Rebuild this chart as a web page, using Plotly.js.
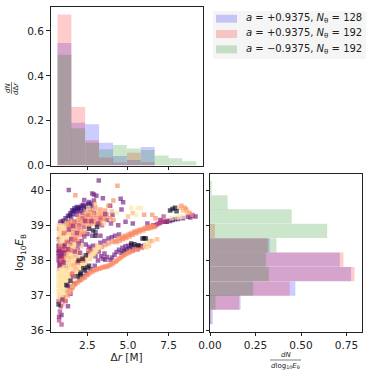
<!doctype html>
<html><head><meta charset="utf-8" />
<script src="https://cdn.plot.ly/plotly-3.0.1.min.js"></script>
<style>html,body{margin:0;background:#fff}#c{width:374px;height:377px}</style>
</head><body><div id="c"></div>
<script>
// histogram bins
const drCenters = [1.08,1.93,2.79,3.65,4.5,5.36,6.22,7.08,7.93,8.79];
const drBlue  = [0.546,0.191,0.184,0.101,0.042,0.024,0.083,0,0,0];
const drRed   = [0.673,0.261,0.113,0.036,0.013,0.057,0.015,0,0,0];
const drGreen = [0.494,0.166,0.101,0.073,0.091,0.076,0.069,0.045,0.032,0.019];

const ebCenters = [36.39,36.8,37.2,37.61,38.02,38.43,38.84,39.25,39.65,40.06];
const ebBlue  = [0.015,0.168,0.469,0.775,0.713,0.328,0,0,0,0];
const ebRed   = [0.006,0.16,0.438,0.794,0.733,0.318,0.027,0,0,0];
const ebGreen = [0,0.03,0.237,0.323,0.307,0.365,0.644,0.449,0.097,0.009];

const legendLabels = [
  '<i>a</i> = +0.9375, <i>N</i><sub>θ</sub> = 128',
  '<i>a</i> = +0.9375, <i>N</i><sub>θ</sub> = 192',
  '<i>a</i> = −0.9375, <i>N</i><sub>θ</sub> = 192'
];

// scatter points [Δr, log10 E], grouped by colour
const purple = [
  [3.2,40.27],[1.35,40.0],[2.8,39.9],[2.9,39.87],[3.05,39.84],[3.45,39.77],[2.3,39.72],[2.6,39.66],[2.75,39.62],[2.9,39.7],[4.55,39.75],[4.7,39.65],[3.9,39.55],
  [4.6,39.45],[4.05,39.3],[6.2,39.05],[7.0,39.15],[5.3,39.05],[4.85,39.1],[4.4,39.0],[3.7,39.15],[3.3,39.2],[2.9,39.35],
  [0.75,36.4],[0.9,36.45],[0.85,36.7],[1.15,36.85],[1.3,36.7],[1.0,36.95],[1.45,37.05],
  [0.75,38.3],[0.85,38.15],[0.95,38.05],[0.8,37.95],[1.05,38.2],[0.9,38.4],[1.15,37.85],[0.8,38.5],[1.1,38.45],[1.3,38.55],[1.5,38.45],
  [1.0,39.05],[1.2,38.95],[1.45,39.0],[1.7,39.1],[2.0,39.0],[2.2,39.2],[2.55,39.3],
  [2.4,38.45],[1.9,38.35],[2.5,38.75],[2.8,38.7],[3.0,38.8],[3.3,38.7],
  [1.7,37.35],[2.0,37.45],[2.2,37.55],[2.45,37.62],[2.7,37.75],[2.95,37.85],[3.15,38.0],[3.45,38.05],[3.7,38.1],[3.55,38.2],[3.2,38.25],[1.45,37.25],[1.25,37.15],
  [2.55,38.2],[2.7,38.32],[2.85,38.42],[2.6,38.38],[2.8,38.22],[3.35,38.12],[3.6,38.02],[3.0,38.12],
  [3.92,38.02],[4.02,38.08],[4.17,38.16],[4.3,38.24],[4.45,38.3],[4.66,38.36],[4.85,38.4],[5.03,38.42],[5.2,38.44],
  [3.3,38.5],[3.55,38.55],[3.8,38.62],[4.0,38.66],[4.2,38.7],[4.45,38.74],
  [8.1,39.18],[8.4,39.2],[8.7,39.24],[9.0,39.28],[9.17,39.25],[8.85,39.22],[7.6,39.12],[7.3,39.1],
  [0.72,38.0],[0.72,38.12],[0.72,38.22],[0.85,38.28],[0.98,38.3],[0.72,38.42],[0.88,37.98],[1.05,38.02],[1.12,38.3],[1.22,38.15],[0.74,38.6],
  [2.1,39.5],[2.25,39.58],[2.05,39.4],[2.2,39.35],[1.95,39.42],[2.4,39.55],[1.5,39.22],[1.3,39.1],[1.85,39.3],[2.65,39.45]
];
const deepPurple = [
  [0.85,39.1],[1.0,39.13],[1.15,39.2],[1.3,39.26],[1.45,39.34],[1.55,39.42],[1.7,39.48],[1.85,39.52],[2.0,39.5],[1.75,39.4],[1.6,39.32],[2.3,39.45],[2.55,39.6],
  [2.75,39.55],[2.45,39.52],[1.9,39.46],[2.15,39.55],[1.65,39.42],[1.4,39.28],
  [4.9,38.3],[5.1,38.34],[5.3,38.37],[5.55,38.4],[5.8,38.4],[6.0,38.42],[4.75,38.27],[4.6,38.22],
  [7.4,39.1],[7.75,39.15],[7.9,39.17]
];
const magenta = [
  [0.75,36.3],[0.9,36.18],[0.8,36.55],[0.72,36.85],[0.8,37.0],
  [0.75,37.75],[0.85,37.85],[0.8,38.05],[0.9,38.25],[1.0,38.0],[1.1,38.1],[0.75,38.4],[0.95,38.35],[1.2,38.3],
  [0.8,38.65],[0.75,38.9],[0.8,39.05],[1.0,38.75],[1.25,38.8],
  [2.3,38.95],[2.6,39.1],[3.4,39.0],
  [6.55,39.0],[6.8,39.03],[7.0,39.07],[7.2,39.1],[7.5,39.13],[7.2,39.25],[6.7,39.0],[6.9,39.05],[7.1,39.1],
  [5.6,38.32],[5.85,38.38],[5.3,38.28],[0.92,37.88],[1.02,38.12],[0.78,38.18],[0.88,38.08],[1.15,38.22],[0.95,38.45],[0.8,37.85]
];
const coral = [
  [4.35,40.12],[1.75,39.85],[3.8,39.55],[4.1,39.7],[6.0,39.3],[6.5,39.3],[6.7,39.2],[8.3,39.55],[8.6,39.45],[8.8,39.35],[8.5,39.5],[8.95,39.3],
  [2.0,39.25],[2.3,39.3],[2.5,39.15],[2.7,39.25],[2.9,39.1],[3.0,39.3],[3.2,39.1],[3.4,39.3],[3.5,39.15],[3.7,39.3],[3.9,39.2],[4.1,39.15],[3.0,39.5],[3.3,39.45],[2.8,39.45],[3.6,39.42],
  [2.15,39.15],[2.4,39.22],[2.6,39.3],[2.85,39.2],[3.1,39.2],[3.3,39.28],[3.55,39.22],[2.25,39.05],[2.45,39.1],[2.75,39.05],[3.05,39.02],[3.3,39.08],[2.05,39.1],[2.6,38.98],
  [1.9,39.15],[1.6,39.1],[1.4,39.1],[1.3,38.95],[1.6,38.9],[1.85,38.95],[2.1,38.85],[2.35,38.8],[1.5,38.7],[1.75,38.7],[1.95,38.55],[2.2,38.75],
  [1.55,39.0],[1.75,39.05],[2.0,38.95],[1.4,38.8],[1.65,38.8],[1.9,38.85],[1.3,39.02],[1.15,39.0],[1.8,38.62],[2.05,38.72],
  [1.0,37.9],[0.9,38.0],[1.15,38.15],[1.35,38.25],[1.05,38.35],[0.85,38.6],
  [3.0,38.24],[3.2,38.32],[3.4,38.38],[3.6,38.44],[3.8,38.48],[4.04,38.52],[4.2,38.56],[4.4,38.62],[4.6,38.66],[4.8,38.7],[5.03,38.74],[5.2,38.78],[5.4,38.82],[5.6,38.85],[5.8,38.88],[6.08,38.93],[6.3,38.96],[6.5,38.98],
  [4.3,38.52],[4.5,38.56],[4.7,38.6],[4.9,38.64],[5.1,38.68],[5.3,38.73],[5.5,38.77],[5.7,38.81],[5.95,38.85],[6.2,38.9],[6.4,38.92],[6.65,38.96],
  [5.15,38.74],[5.45,38.8],[5.75,38.86],[6.0,38.9],[6.25,38.93],[6.55,38.95],[4.65,38.63],[4.85,38.67],
  [3.3,37.78],[3.43,37.81],[3.6,37.83],[3.8,37.85],[4.0,37.9],[4.23,37.96],[4.4,38.03],[4.6,38.1],[4.8,38.16],[5.03,38.22],[5.2,38.26],[5.4,38.3],[5.6,38.32],[5.85,38.35],[6.08,38.39],
  [3.5,37.8],[3.7,37.82],[3.9,37.87],[4.1,37.92],[4.3,37.99],[4.5,38.06],[4.7,38.13],[4.9,38.19],[5.1,38.24],
  [1.15,36.85],[1.3,37.0],[1.45,37.15],[1.6,37.25],[1.8,37.35],[2.0,37.42],[2.25,37.5],[2.45,37.58],[2.65,37.65],[2.9,37.72],[3.1,37.75],
  [1.7,37.3],[1.9,37.38],[2.15,37.46],[2.35,37.52],[2.55,37.6],[2.8,37.68],[3.0,37.73],[3.2,37.76],[1.55,37.2],[1.4,37.08],
  [0.85,36.9],[0.95,36.75]
];
const orange = [
  [1.0,37.55],[1.15,37.7],[1.3,37.8],[1.2,37.5],[1.45,38.0],[1.6,38.2],[1.8,38.3],[1.3,38.45],[1.6,38.55],[1.85,38.7],
  [0.8,38.8],[1.0,38.9],[1.2,39.05],[0.9,39.0],[1.4,38.85],[1.15,38.6],[1.45,38.65],
  [1.3,37.35],[1.5,37.5],[1.7,37.62],[1.85,37.75],[2.05,37.85],[2.2,37.95],[2.4,38.05],[2.55,38.15],[2.75,38.22],[2.9,38.32],[3.1,38.42],[2.65,38.05],[2.85,38.15],[2.3,37.85],[2.0,37.7],
  [1.1,37.1],[1.25,37.22],[1.05,36.95],[1.35,37.1],[1.55,37.28],
  [1.4,38.1],[1.55,38.05],[1.7,38.1],[1.85,38.15],[1.5,37.85],[1.65,37.9],[1.8,37.95],[1.35,37.95],[1.95,38.25],[1.25,38.35],[1.45,38.4],[1.65,38.38],[2.1,38.4],[1.75,38.48],
  [1.6,37.7],[1.4,37.6],[1.75,37.82],[2.15,38.1],[2.0,38.05],
  [1.2,37.95],[1.3,38.1],
  [2.6,39.4],[2.95,39.6],[3.3,39.35],[2.2,39.1],[2.5,39.0],[2.8,39.32],[3.15,39.38],[3.5,39.35],[2.4,39.38],
  [4.0,39.4],[5.0,39.25],[5.3,39.35],[6.3,38.42],[6.5,38.55],[6.8,38.6],[6.35,38.55],
  [8.2,39.5],[8.4,39.42],[8.65,39.38]
];
const pale = [
  [0.75,37.0],[0.85,37.1],[0.75,37.2],[0.95,37.2],[0.85,37.35],[1.0,37.35],[0.75,37.45],[0.9,37.5],[1.05,37.45],[0.8,37.6],[0.95,37.65],[1.1,37.6],[0.75,37.72],[0.9,37.78],[1.1,37.8],
  [0.72,36.95],[0.78,37.05],[0.9,37.02],[0.7,37.12],[0.82,37.18],[0.93,37.12],[1.02,37.08],[0.7,37.28],[0.8,37.3],[0.92,37.28],[1.02,37.25],[1.12,37.2],[0.72,37.38],[0.82,37.42],[0.95,37.42],[1.1,37.38],[1.2,37.42],[0.7,37.52],[0.82,37.55],[1.0,37.52],[1.15,37.52],[1.28,37.55],[0.72,37.65],[0.88,37.7],[1.03,37.72],[1.2,37.68],[1.35,37.65],
  [0.85,38.45],[1.0,38.55],[0.8,38.7],[0.95,38.65],[1.1,38.7],[0.9,38.85],[1.05,38.82],[1.25,38.7],[1.2,38.88],[0.85,38.95],[1.35,38.75],
  [0.72,38.75],[0.75,38.55],[0.92,38.58],[1.05,38.62],[0.78,38.88],[1.0,38.98],[1.12,38.92],[1.3,38.62],[0.72,39.0],
  [1.5,38.2],[1.7,38.45],[1.55,38.35],[1.3,37.9],[1.2,38.05],[1.35,38.18],[1.5,37.98],[1.42,37.78],[1.62,38.02],
  [1.7,37.5],[1.9,37.65],[2.1,37.78],[2.3,37.95],[2.5,38.02],[2.7,38.12],[2.9,38.2],[3.05,38.3],[3.25,38.38],
  [1.55,37.45],[1.8,37.6],[2.0,37.82],[2.2,37.88],[2.4,37.98],[2.6,38.08],[2.8,38.18],[3.0,38.25],[3.15,38.36],
  [5.2,39.5],[5.6,39.5],[5.8,39.48],[5.5,39.3],[4.3,39.35],[2.55,39.5],[3.55,39.05],
  [8.4,39.25],[8.0,39.22],[7.7,39.2],[8.2,39.24],
  [6.05,38.4],[6.2,38.35],[6.1,38.5]
];
// marks that sit on top of the pale and orange cloud in the reference
const topPurple = [
  [0.8,38.12],[0.72,38.28],[0.92,38.18],[1.08,38.4],[0.78,37.88],[1.02,37.95],[1.32,38.32],[1.5,38.6],[1.72,38.25],[1.95,38.48],
  [1.35,38.88],[1.62,38.98],[1.85,38.78],[2.15,38.55],[2.3,38.68],[2.05,38.22],[1.62,37.55],[1.28,37.28],[0.95,36.88],
  [2.75,39.12],[3.15,39.05],[3.6,39.32],[2.35,39.12],[3.95,39.05]
];
const topCoral = [
  [1.48,38.28],[1.22,38.52],[1.72,38.58],[1.05,38.78],[0.82,38.38],[1.55,37.62],[1.9,37.95],[2.25,38.0],[2.55,38.28]
];
const dark = [
  [0.72,36.75],[7.6,39.42],[7.9,39.5],[8.0,39.4],[7.75,39.46],
  [5.2,38.48],[5.4,38.46],[5.65,38.43],[5.9,38.62],[6.0,38.63],[6.1,38.62],
  [1.2,37.3],[1.45,37.42],[1.9,37.55],[2.1,37.65],[2.35,37.72],[2.5,37.8],[1.95,38.0],[2.2,38.05],[2.4,38.15],[2.6,37.85],
  [2.85,38.85],[3.0,38.7],[3.1,38.95],[2.6,38.9],[2.25,37.78],[2.05,37.6]
];

const groups = [
  [purple,'#721f81'],[deepPurple,'#3b0f70'],[magenta,'#b5367a'],[coral,'#fb8861'],
  [orange,'#feb078'],[pale,'#fde5a7'],[topPurple,'#8c2981'],[topCoral,'#f1605d'],[dark,'#0b0924']
];

const hist = (x,y,color,xa,ya,horiz) => ({
  type:'bar', orientation: horiz ? 'h' : 'v',
  x: horiz ? y : x, y: horiz ? x : y,
  width: horiz ? 0.407 : 0.857,
  xaxis:xa, yaxis:ya, hoverinfo:'skip', showlegend:false,
  marker:{ color, opacity:0.2, line:{ width:0 } }
});

const traces = [
  hist(drCenters,drBlue,'#0000ff','x','y',false),
  hist(drCenters,drRed,'#ff0000','x','y',false),
  hist(drCenters,drGreen,'#008000','x','y',false),
  hist(ebCenters,ebBlue,'#0000ff','x3','y3',true),
  hist(ebCenters,ebRed,'#ff0000','x3','y3',true),
  hist(ebCenters,ebGreen,'#008000','x3','y3',true),
  ...groups.map(([pts,color]) => ({
    type:'scatter', mode:'markers', xaxis:'x2', yaxis:'y2', showlegend:false, hoverinfo:'skip',
    x: pts.map(p=>p[0]), y: pts.map(p=>p[1]),
    marker:{ symbol:'square', size:4.5, color, opacity:0.65, line:{ width:0 } }
  }))
];

const W = 374, H = 377;
const px = (a,b) => [a/W, b/W];
const py = (top,bot) => [1-bot/H, 1-top/H];
const AXIS = { showline:true, mirror:true, linecolor:'#222', linewidth:1, ticks:'outside', ticklen:3.5, tickwidth:1,
  tickcolor:'#222', showgrid:false, zeroline:false, tickfont:{ size:10.5, color:'#222' } };
const drTicks = { tickvals:[2.5,5,7.5], ticktext:['2.5','5.0','7.5'] };
const ebTicks = { tickvals:[36,37,38,39,40] };

const swatches = ['rgba(0,0,255,0.2)','rgba(255,0,0,0.2)','rgba(0,128,0,0.2)'];
const rows = [18.7,34,49.3];
const shapes = [
  { type:'rect', xref:'paper', yref:'paper', x0:213/W, x1:366/W, y0:1-11/H, y1:1-59/H, fillcolor:'#f5f5f5', line:{ width:0 } },
  ...swatches.map((c,i) => ({ type:'rect', xref:'paper', yref:'paper', x0:216/W, x1:237/W,
    y0:1-(rows[i]-4)/H, y1:1-(rows[i]+4)/H, fillcolor:c, line:{ width:0 } })),
  { type:'line', xref:'paper', yref:'paper', x0:11.5/W, x1:11.5/W, y0:1-82/H, y1:1-94/H, line:{ color:'#222', width:0.6 } },
  { type:'line', xref:'paper', yref:'paper', x0:270/W, x1:301/W, y0:1-360/H, y1:1-360/H, line:{ color:'#222', width:0.6 } }
];
const note = (text,x,y,size,extra) => Object.assign({ xref:'paper', yref:'paper', x:x/W, y:1-y/H, text, showarrow:false,
  font:{ size, color:'#222' }, borderpad:0, xanchor:'center', yanchor:'middle' }, extra);
const annotations = [
  ...legendLabels.map((t,i) => note(t,245,rows[i],10,{ xanchor:'left' })),
  note('<i>dN</i>',8,88,7,{ textangle:-90 }),
  note('<i>d</i>Δ<i>r</i>',16,88,7,{ textangle:-90 }),
  note('<i>dN</i>',285.5,355,7),
  note('<i>d</i>log<sub>10</sub><i>E</i><sub>θ</sub>',285.5,366,7)
];

const layout = {
  width:W, height:H, margin:{ l:0, r:0, t:0, b:0 }, autosize:false, barmode:'overlay',
  paper_bgcolor:'#fff', plot_bgcolor:'#fff', font:{ family:'"DejaVu Sans",sans-serif', color:'#222' },
  xaxis:{ ...AXIS, ...drTicks, domain:px(50.5,202.5), range:[0.22,9.6], showticklabels:false, anchor:'y' },
  yaxis:{ ...AXIS, domain:py(7,165.5), range:[0,0.707], tickvals:[0,0.2,0.4,0.6], ticktext:['0.0','0.2','0.4','0.6'], anchor:'x' },
  xaxis2:{ ...AXIS, ...drTicks, domain:px(50.5,202.5), range:[0.22,9.6], anchor:'y2',
    title:{ text:'Δ<i>r</i> [M]', font:{ size:10.5, color:'#222' }, standoff:3 } },
  yaxis2:{ ...AXIS, ...ebTicks, domain:py(173.5,331.5), range:[35.98,40.47], anchor:'x2',
    title:{ text:'log<sub>10</sub><i>E</i><sub>B</sub>', font:{ size:10.5, color:'#222' }, standoff:4 } },
  xaxis3:{ ...AXIS, domain:px(210,362), range:[0,0.835], tickvals:[0,0.25,0.5,0.75], ticktext:['0.00','0.25','0.50','0.75'], anchor:'y3' },
  yaxis3:{ ...AXIS, ...ebTicks, domain:py(173.5,331.5), range:[35.98,40.47], showticklabels:false, anchor:'x3' },
  shapes, annotations
};
Plotly.newPlot('c', traces, layout, { staticPlot:true, displayModeBar:false });
</script>
</body></html>
